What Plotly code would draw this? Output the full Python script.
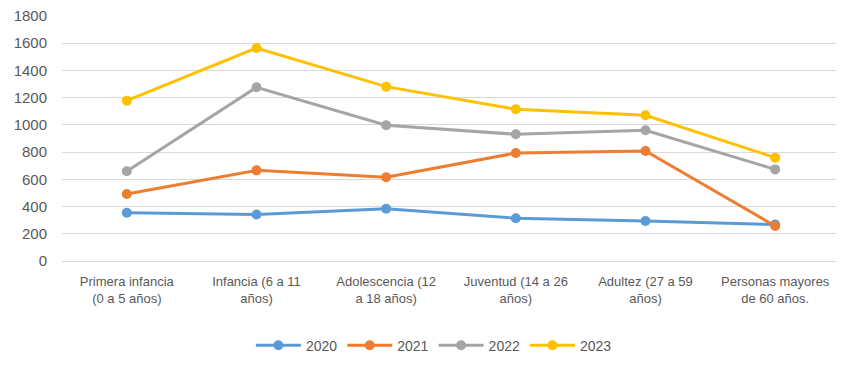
import plotly.graph_objects as go

# ---------------------------------------------------------------------------
# Data
# ---------------------------------------------------------------------------

CATEGORIES = [
    "Primera infancia<br>(0 a 5 años)",
    "Infancia (6 a 11<br>años)",
    "Adolescencia (12<br>a 18 años)",
    "Juventud (14 a 26<br>años)",
    "Adultez (27 a 59<br>años)",
    "Personas mayores<br>de 60 años.",
]

Y2020 = [355, 342, 384, 314, 294, 268]
Y2021 = [492, 666, 615, 793, 808, 257]
Y2022 = [659, 1276, 997, 931, 960, 673]
Y2023 = [1178, 1565, 1281, 1115, 1071, 759]

SERIES = [
    ("2020", Y2020, "#5B9BD5"),
    ("2021", Y2021, "#ED7D31"),
    ("2022", Y2022, "#A5A5A5"),
    ("2023", Y2023, "#FFC000"),
]

Y_TICKS = [0, 200, 400, 600, 800, 1000, 1200, 1400, 1600, 1800]

FONT = "Liberation Sans Narrow, Arial Narrow, Liberation Sans, sans-serif"
TEXT = "#595959"
GRID = "#D9D9D9"

# ---------------------------------------------------------------------------
# Figure  (page body adds an 8px offset, so the figure is 836x362)
# ---------------------------------------------------------------------------

fig = go.Figure()

for name, values, color in SERIES:
    fig.add_trace(
        go.Scatter(
            x=CATEGORIES,
            y=values,
            name=name,
            mode="lines+markers",
            line=dict(color=color, width=3),
            marker=dict(color=color, size=10),
        )
    )

fig.update_layout(
    width=836,
    height=362,
    margin=dict(l=54, r=4, t=8, b=109),
    plot_bgcolor="white",
    paper_bgcolor="white",
    font=dict(family=FONT, size=13, color=TEXT),
    legend=dict(
        orientation="h",
        x=0.478, xanchor="center",
        y=-0.28, yanchor="top",
        font=dict(size=14, color=TEXT),
        itemwidth=45,
    ),
)

fig.update_xaxes(
    type="category",
    range=[-0.5, 5.5],
    automargin=False,
    showgrid=False,
    showline=True,
    linecolor=GRID,
    ticks="",
    ticklabelstandoff=8,
    tickfont=dict(size=13, color=TEXT),
)

fig.update_yaxes(
    range=[0, 1800],
    tickvals=Y_TICKS,
    automargin=False,
    ticklabeloverflow="allow",
    showgrid=True,
    gridcolor=GRID,
    zeroline=False,
    showline=False,
    ticks="",
    ticklabelstandoff=14,
    tickfont=dict(size=15, color=TEXT),
)

fig.write_html("out.html")
